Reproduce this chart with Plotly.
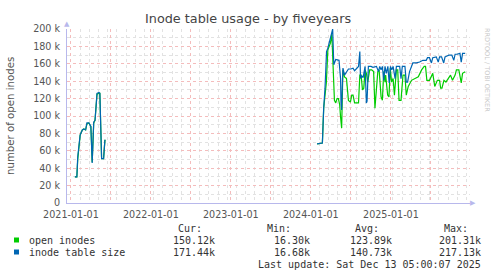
import plotly.graph_objects as go

# ---------------- data ----------------
# segment 1 (2021) – both series nearly identical
s1_dates = ["2021-01-19", "2021-01-28", "2021-02-01", "2021-02-08", "2021-02-12", "2021-02-22",
            "2021-03-01", "2021-03-09", "2021-03-15", "2021-03-24", "2021-03-30", "2021-04-02",
            "2021-04-08", "2021-04-15", "2021-04-21", "2021-04-30", "2021-05-09", "2021-05-13",
            "2021-05-21", "2021-05-30", "2021-06-05", "2021-06-08"]
s1_open = [30, 30, 50, 72, 78, 84, 85, 84, 91, 92, 88, 88, 47, 92, 95, 125, 126, 126, 51, 51, 72, 72]
s1_size = [30, 30, 53, 74, 78, 84, 85, 84, 92, 92, 88, 88, 46, 93, 95, 126, 127, 126, 51, 51, 72, 72]

# segment 2 (2024-2025) – inode table size
size_dates = ["2024-01-30", "2024-02-23", "2024-02-29", "2024-03-06", "2024-03-13", "2024-03-19",
              "2024-03-28", "2024-04-06", "2024-04-10", "2024-04-15", "2024-04-24", "2024-05-09",
              "2024-05-16", "2024-05-18", "2024-05-21", "2024-05-25", "2024-05-27", "2024-06-03",
              "2024-06-12", "2024-06-21", "2024-07-02", "2024-07-12", "2024-07-19", "2024-07-28",
              "2024-08-06", "2024-08-12", "2024-08-15", "2024-08-21", "2024-08-27", "2024-09-05",
              "2024-09-11", "2024-09-14", "2024-09-20", "2024-10-02", "2024-10-11", "2024-10-27",
              "2024-11-05", "2024-11-11", "2024-11-17", "2024-11-23", "2024-11-29", "2024-12-05",
              "2024-12-11", "2024-12-18", "2024-12-24", "2024-12-30", "2025-01-05", "2025-01-11",
              "2025-01-20", "2025-01-26", "2025-02-10", "2025-02-16", "2025-02-22", "2025-03-06",
              "2025-03-12", "2025-03-18", "2025-03-27", "2025-04-11", "2025-04-27", "2025-05-12",
              "2025-05-27", "2025-06-11", "2025-06-17", "2025-06-26", "2025-07-05", "2025-07-11",
              "2025-07-27", "2025-08-05", "2025-08-11", "2025-08-20", "2025-08-30", "2025-09-05",
              "2025-09-14", "2025-09-23", "2025-10-06", "2025-10-15", "2025-10-21", "2025-10-30",
              "2025-11-12", "2025-11-18", "2025-11-24", "2025-12-06"]
size_vals = [68, 69, 109, 132, 174, 178, 187, 199, 200, 159, 165, 164,
             143, 115, 107, 143, 155, 147, 151, 154, 154, 155, 152, 155,
             157, 174, 143, 146, 144, 157, 115, 117, 157, 157, 156, 157,
             151, 157, 153, 157, 141, 157, 149, 157, 138, 157, 153, 157,
             143, 157, 157, 143, 157, 157, 139, 139, 151, 161, 161, 162,
             164, 164, 167, 167, 161, 167, 168, 162, 168, 168, 161, 168,
             169, 170, 170, 164, 171, 171, 172, 162, 172, 172]

# segment 2 – open inodes
open_dates = ["2024-01-30", "2024-02-23", "2024-02-29", "2024-03-09", "2024-03-12", "2024-03-19",
              "2024-03-24", "2024-03-31", "2024-04-06", "2024-04-12", "2024-04-15", "2024-04-18",
              "2024-04-24", "2024-04-30", "2024-05-06", "2024-05-12", "2024-05-16", "2024-05-21",
              "2024-05-25", "2024-05-27", "2024-06-03", "2024-06-12", "2024-06-21", "2024-06-30",
              "2024-07-06", "2024-07-12", "2024-07-19", "2024-08-06", "2024-08-12", "2024-08-18",
              "2024-08-24", "2024-08-30", "2024-09-05", "2024-09-11", "2024-09-17", "2024-09-26",
              "2024-10-05", "2024-10-14", "2024-10-20", "2024-10-27", "2024-11-02", "2024-11-08",
              "2024-11-17", "2024-11-23", "2024-11-29", "2024-12-05", "2024-12-08", "2024-12-17",
              "2024-12-23", "2024-12-29", "2025-01-04", "2025-01-11", "2025-01-17", "2025-01-26",
              "2025-02-01", "2025-02-07", "2025-02-16", "2025-02-25", "2025-03-06", "2025-03-12",
              "2025-03-21", "2025-04-05", "2025-04-20", "2025-05-06", "2025-05-21", "2025-06-02",
              "2025-06-08", "2025-06-14", "2025-06-26", "2025-07-05", "2025-07-11", "2025-07-20",
              "2025-08-01", "2025-08-11", "2025-08-16", "2025-08-22", "2025-08-31", "2025-09-09",
              "2025-09-18", "2025-09-30", "2025-10-09", "2025-10-21", "2025-10-27", "2025-11-07",
              "2025-11-18", "2025-11-24", "2025-12-06"]
open_vals = [68, 69, 109, 130, 138, 176, 180, 184, 195, 164, 149, 118,
             115, 120, 120, 113, 99, 86, 134, 153, 145, 143, 118, 116,
             124, 124, 115, 115, 147, 147, 130, 132, 153, 149, 139, 153,
             153, 151, 109, 138, 151, 153, 122, 118, 151, 139, 147, 124,
             122, 155, 139, 143, 124, 153, 153, 118, 118, 147, 147, 124,
             134, 141, 143, 145, 153, 157, 157, 141, 141, 147, 149, 134,
             141, 141, 132, 132, 141, 139, 143, 147, 141, 147, 153, 153,
             138, 149, 151]

y_tickvals = [0, 20000, 40000, 60000, 80000, 100000, 120000, 140000, 160000, 180000, 200000]
y_ticktext = ["0", "20 k", "40 k", "60 k", "80 k", "100 k", "120 k", "140 k", "160 k", "180 k", "200 k"]
x_tickvals = ["2021-01-01", "2021-07-01", "2022-01-01", "2022-07-01", "2023-01-01", "2023-07-01",
              "2024-01-01", "2024-07-01", "2025-01-01", "2025-07-01"]
x_ticktext = ["2021-01-01", "", "2022-01-01", "", "2023-01-01", "", "2024-01-01", "", "2025-01-01", ""]

series_names = ["open inodes", "inode table size"]
series_colors = ["#00CC00", "#0066B3"]
stat_cur = ["150.12k", "171.44k"]
stat_min = ["16.30k", "16.68k"]
stat_avg = ["123.89k", "140.73k"]
stat_max = ["201.31k", "217.13k"]

# ---------------- figure ----------------
W, H = 497, 276
L, R, T, B = 67, 27, 29, 73
PW, PH = W - L - R, H - T - B


def px(x):
    return (x - L) / PW


def py(y):
    return (H - B - y) / PH


fig = go.Figure()
k = 1000
fig.add_trace(go.Scatter(x=s1_dates, y=[v * k for v in s1_open], mode="lines",
                         line=dict(color=series_colors[0], width=1.2), showlegend=False))
fig.add_trace(go.Scatter(x=s1_dates, y=[v * k for v in s1_size], mode="lines",
                         line=dict(color=series_colors[1], width=1.2), showlegend=False))
fig.add_trace(go.Scatter(x=open_dates, y=[v * k for v in open_vals], mode="lines",
                         line=dict(color=series_colors[0], width=1.2), showlegend=False))
fig.add_trace(go.Scatter(x=size_dates, y=[v * k for v in size_vals], mode="lines",
                         line=dict(color=series_colors[1], width=1.2), showlegend=False))

axis_col = "#B8B8EC"
fig.update_layout(
    width=W, height=H, margin=dict(l=L, r=R, t=T, b=B),
    paper_bgcolor="white", plot_bgcolor="white",
    font=dict(family="DejaVu Sans", size=10, color="#555"),
    xaxis=dict(type="date", range=["2020-12-14", "2025-12-28"],
               tickvals=x_tickvals, ticktext=x_ticktext,
               showgrid=True, gridcolor="#F4BCBC", griddash="dot", gridwidth=1,
               minor=dict(dtick=42 * 86400000, tick0="2021-01-01", showgrid=True,
                          gridcolor="#E2E2E2", griddash="dot"),
               showline=True, linecolor=axis_col, linewidth=1, zeroline=False,
               ticks="", tickfont=dict(size=9.6, color="#555"), ticklabelstandoff=2),
    yaxis=dict(range=[0, 200000], tickvals=y_tickvals, ticktext=y_ticktext,
               showgrid=True, gridcolor="#F4BCBC", griddash="dot", gridwidth=1,
               minor=dict(dtick=10000, tick0=0, showgrid=True, gridcolor="#E2E2E2", griddash="dot"),
               showline=True, linecolor=axis_col, linewidth=1, zeroline=False,
               ticks="", tickfont=dict(size=9.6, color="#555"), ticklabelstandoff=4),
)

ann = []


def add_text(x, y, text, xanchor="left", size=10, color="#333", family="DejaVu Sans Mono", angle=0):
    ann.append(dict(x=px(x), y=py(y), xref="paper", yref="paper", text=text, showarrow=False,
                    xanchor=xanchor, yanchor="middle", textangle=angle,
                    font=dict(family=family, size=size, color=color)))


add_text(248, 19, "Inode table usage - by fiveyears", "center", 12.8, "#444", "DejaVu Sans")
add_text(10, 116, "number of open inodes", "center", 10.2, "#555", "DejaVu Sans", -90)
add_text(487, 70, "RRDTOOL / TOBI OETIKER", "center", 6.5, "#C8C8C8", "DejaVu Sans", 90)
add_text(67, 24, "▲", "center", 7, axis_col, "DejaVu Sans")
add_text(473, 203, "▶", "center", 7, axis_col, "DejaVu Sans")

add_text(204, 228, "Cur:", "right")
add_text(293, 228, "Min:", "right")
add_text(381, 228, "Avg:", "right")
add_text(470, 228, "Max:", "right")
row_y = [240, 252]
shapes = []
for i in range(2):
    yy = row_y[i]
    add_text(27, yy, series_names[i], "left")
    add_text(217, yy, stat_cur[i], "right")
    add_text(312, yy, stat_min[i], "right")
    add_text(394, yy, stat_avg[i], "right")
    add_text(483, yy, stat_max[i], "right")
    shapes.append(dict(type="rect", xref="paper", yref="paper",
                       x0=px(14), x1=px(19), y0=py(yy + 2.5), y1=py(yy - 2.5),
                       fillcolor=series_colors[i], line=dict(width=0)))
add_text(483, 264, "Last update: Sat Dec 13 05:00:07 2025", "right")

fig.update_layout(annotations=ann, shapes=shapes)
fig.write_html("out.html")
